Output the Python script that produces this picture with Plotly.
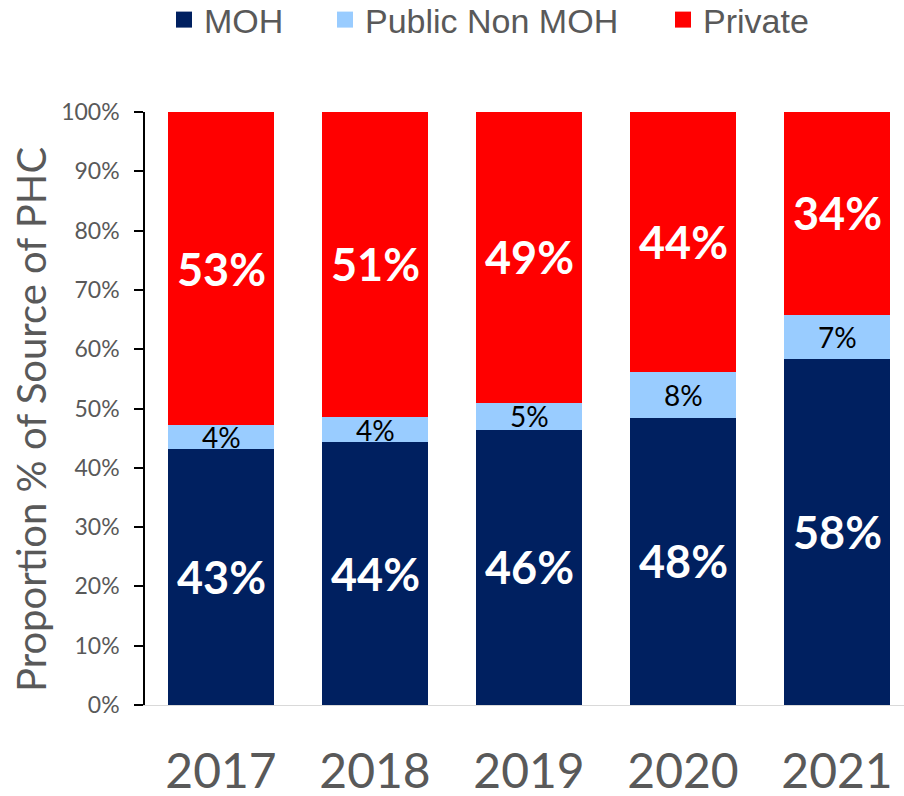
import plotly.graph_objects as go

# Share of primary health care by source (%)
years = ["2017", "2018", "2019", "2020", "2021"]
moh = [43.2, 44.3, 46.4, 48.4, 58.4]
public_non_moh = [4.0, 4.3, 4.6, 7.8, 7.4]
private = [52.8, 51.4, 49.0, 43.8, 34.2]

series_names = ["MOH", "Public Non MOH", "Private"]
series_colors = ["#002060", "#99CCFF", "#FF0000"]
y_ticks = [0, 10, 20, 30, 40, 50, 60, 70, 80, 90, 100]

GRAY = "#595959"
CAL = "Lato"
W, H = 904, 796
L, R, T, B = 145, 0, 112, 91

fig = go.Figure()
annotations = []

series = [moh, public_non_moh, private]
base = [0.0] * len(years)
for name, vals, color in zip(series_names, series, series_colors):
    fig.add_trace(go.Bar(
        x=years, y=vals, name=name, marker=dict(color=color, line=dict(width=0)),
        showlegend=False, hoverinfo="skip",
    ))
    # value labels at the middle of each segment (x given as category index)
    big = name != "Public Non MOH"
    for i, (b, v) in enumerate(zip(base, vals)):
        annotations.append(dict(
            x=i, y=b + v / 2, xref="x", yref="y",
            text=f"{round(v)}%", showarrow=False,
            xanchor="center", yanchor="middle",
            font=dict(family=CAL, size=45 if big else 28,
                      color="white" if big else "black",
                      weight=700 if big else 400),
        ))
    base = [b + v for b, v in zip(base, vals)]

# y-axis title
annotations.append(dict(
    text="Proportion % of Source of PHC", textangle=-90, showarrow=False,
    xref="paper", yref="paper",
    x=(31 - L) / (W - L - R), y=(H - B - 420) / (H - T - B),
    xanchor="center", yanchor="middle",
    font=dict(family=CAL, size=40, color=GRAY),
))

# one legend per series so each entry sits at its own spot in the top row
legend_left_px = [164, 325, 663]
legend_keys = ["legend", "legend2", "legend3"]
for name, color, key in zip(series_names, series_colors, legend_keys):
    fig.add_trace(go.Scatter(
        x=[None], y=[None], mode="markers", name=name, legend=key,
        marker=dict(symbol="square", size=18, color=color),
    ))

legend_layout = {}
for key, px in zip(legend_keys, legend_left_px):
    legend_layout[key] = dict(
        orientation="h", xref="container", x=px / W, xanchor="left",
        yref="container", y=1 - 20 / H, yanchor="middle",
        font=dict(family="Liberation Sans", size=34, color=GRAY),
        itemsizing="trace", bgcolor="rgba(0,0,0,0)", borderwidth=0,
    )

fig.update_layout(
    width=W, height=H,
    margin=dict(l=L, r=R, t=T, b=B, pad=0),
    plot_bgcolor="white", paper_bgcolor="white",
    barmode="stack", bargap=0.312,
    annotations=annotations,
    xaxis=dict(
        type="category", categoryorder="array", categoryarray=years,
        range=[-0.4935, 4.435], showline=True, linecolor="#d9d9d9", linewidth=1,
        ticks="", showgrid=False, zeroline=False, automargin=False,
        tickfont=dict(family=CAL, size=48, color=GRAY),
        ticklabelstandoff=24,
    ),
    yaxis=dict(
        range=[0, 100], tickvals=y_ticks, ticktext=[f"{v}%" for v in y_ticks],
        showline=True, linecolor="black", linewidth=1.5,
        ticks="outside", ticklen=9, tickcolor="black", tickwidth=1.5,
        showgrid=False, zeroline=False, automargin=False,
        tickfont=dict(family=CAL, size=23, color=GRAY),
        ticklabelstandoff=10,
    ),
    **legend_layout,
)

fig.write_html("out.html")
